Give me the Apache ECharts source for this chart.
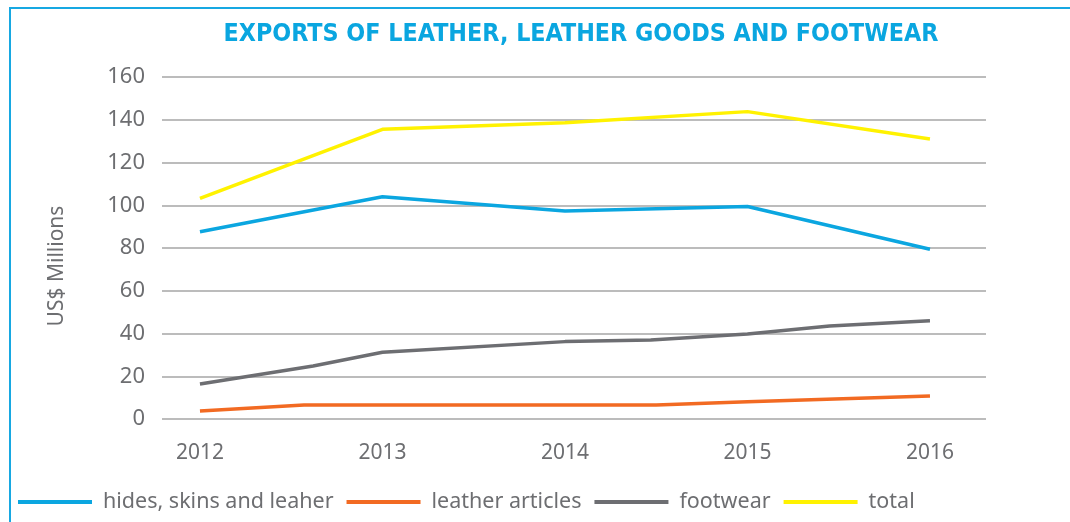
<!DOCTYPE html>
<html>
<head>
<meta charset="utf-8">
<script src="https://cdn.jsdelivr.net/npm/echarts@6/dist/echarts.min.js"></script>
<style>
  html, body { margin: 0; padding: 0; background: #fff; }
  #chart { width: 1070px; height: 522px; }
</style>
</head>
<body>
<div id="chart"></div>
<script>
// values, [year, US$ millions]
var yearTicks = [2012, 2013, 2014, 2015, 2016];
var hides = [[2012, 87.6], [2013, 104], [2014, 97.3], [2015, 99.4], [2016, 79.4]];
var articles = [[2012, 3.7], [2012.57, 6.5], [2013, 6.5], [2014, 6.5], [2014.5, 6.5], [2015, 8.1], [2016, 10.8]];
var footwear = [[2012, 16.4], [2012.62, 24.8], [2013, 31.2], [2014, 36.2], [2014.47, 37], [2015, 39.8], [2015.45, 43.5], [2016, 46]];
var total = [[2012, 103.2], [2013, 135.5], [2014, 138.6], [2015, 143.8], [2016, 131]];

var names = ['hides, skins and leaher', 'leather articles', 'footwear', 'total'];
var colors = ['#0ba6e0', '#f26a22', '#6d6e72', '#fff200'];
var muted = '#6d6e71';
var font = "'Noto Sans', sans-serif";

var chart = echarts.init(document.getElementById('chart'), null, { renderer: 'canvas' });

function line(name, data, color) {
  return {
    name: name,
    type: 'line',
    data: data,
    symbol: 'none',
    lineStyle: { color: color, width: 3.5 },
    itemStyle: { color: color }
  };
}

chart.setOption({
  animation: false,
  title: {
    text: 'EXPORTS OF LEATHER, LEATHER GOODS AND FOOTWEAR',
    left: 576,
    top: 17,
    textAlign: 'center',
    textStyle: {
      color: '#0aa6e0',
      fontSize: 24.8,
      fontWeight: 'bold',
      fontFamily: "'Liberation Sans Narrow', 'DejaVu Sans Condensed', 'Noto Sans', sans-serif"
    }
  },
  graphic: [{
    type: 'rect',
    shape: { x: 10, y: 8, width: 1100, height: 600 },
    style: { fill: 'none', stroke: '#17a8e2', lineWidth: 2 },
    silent: true
  }],
  legend: {
    left: 18,
    top: 491,
    padding: 0,
    icon: 'rect',
    itemWidth: 74,
    itemHeight: 4,
    itemGap: 13,
    textStyle: { color: muted, fontSize: 21.5, fontFamily: font, padding: [0, 0, 0, 6] },
    data: names
  },
  grid: { left: 162, right: 84, top: 77, bottom: 103 },
  xAxis: {
    type: 'value',
    min: 2011.792,
    max: 2016.307,
    axisLine: { show: false },
    axisTick: { show: false },
    splitLine: { show: false },
    axisLabel: {
      customValues: yearTicks,
      color: muted,
      fontSize: 21,
      fontFamily: font,
      margin: 24,
      formatter: function (v) { return String(v); }
    }
  },
  yAxis: {
    type: 'value',
    min: 0,
    max: 160,
    interval: 20,
    name: 'US$ Millions',
    nameLocation: 'middle',
    nameGap: 94,
    nameTextStyle: { color: muted, fontSize: 21, fontFamily: font, padding: [0, 36, 0, 0] },
    axisLine: { show: false },
    axisTick: { show: false },
    axisLabel: { color: muted, fontSize: 22, fontFamily: font, margin: 17 },
    splitLine: { lineStyle: { color: '#a6a6a6', width: 1.5 } }
  },
  series: [
    line(names[0], hides, colors[0]),
    line(names[1], articles, colors[1]),
    line(names[2], footwear, colors[2]),
    line(names[3], total, colors[3])
  ]
});
window.addEventListener('resize', function () { chart.resize(); });
</script>
</body>
</html>
